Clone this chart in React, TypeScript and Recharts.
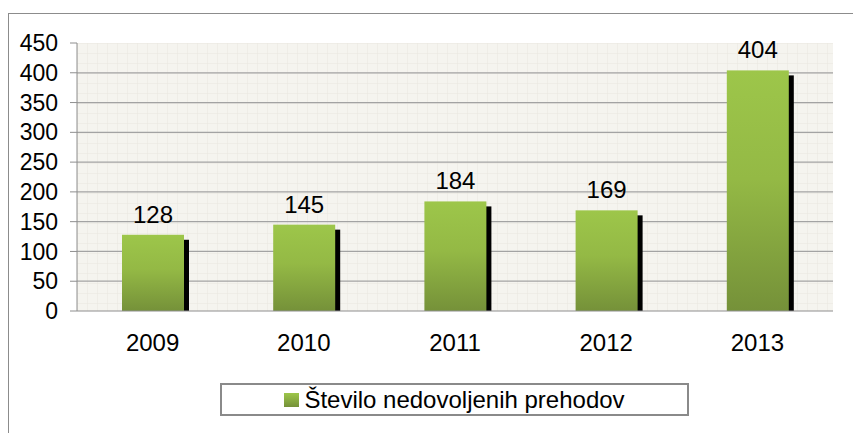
import { Bar, BarChart, CartesianGrid, LabelList, XAxis, YAxis } from "recharts";

const years = ["2009", "2010", "2011", "2012", "2013"];
const crossings = [128, 145, 184, 169, 404];
const yTicks = [0, 50, 100, 150, 200, 250, 300, 350, 400, 450];
const gridValues = [50, 100, 150, 200, 250, 300, 350, 400];
const edgeTicks = [0, 1, 2, 3, 4, 5];
const seriesName = "Število nedovoljenih prehodov";

const data = years.map((year, i) => ({ year, value: crossings[i] }));

const FONT = "'Liberation Sans', Arial, sans-serif";
const AXIS_GREY = "#8e8e8e";

function ShadowBar(props: any) {
  const { x, y, width, height } = props;
  if (!height || height <= 0) return null;
  return (
    <g>
      <rect x={x + 5} y={y + 5} width={width} height={Math.max(height - 5, 0)} fill="#000" />
      <rect x={x} y={y} width={width} height={height} fill="url(#barGreen)" />
    </g>
  );
}

export default function App() {
  return (
    <div
      style={{
        position: "absolute",
        left: 0,
        top: 0,
        width: 853,
        height: 433,
        background: "#fff",
        overflow: "hidden",
        fontFamily: FONT,
      }}
    >
      <div
        style={{
          position: "absolute",
          left: 8,
          top: 13,
          width: 900,
          height: 500,
          border: "1px solid #8c8c8c",
        }}
      />
      <div style={{ position: "absolute", left: 0, top: 0 }}>
        <BarChart
          width={853}
          height={433}
          data={data}
          margin={{ top: 43, right: 20, left: 0, bottom: 92 }}
          barSize={62}
        >
          <defs>
            <linearGradient id="barGreen" x1="0" y1="0" x2="0" y2="1">
              <stop offset="0%" stopColor="#9dc64a" />
              <stop offset="45%" stopColor="#94b945" />
              <stop offset="100%" stopColor="#759139" />
            </linearGradient>
            <pattern id="minorGrid" width={10} height={10} patternUnits="userSpaceOnUse" x={77} y={43}>
              <rect width={10} height={10} fill="#f5f4ef" />
              <path d="M 10 0 L 0 0 0 10" fill="none" stroke="#e9e7e0" strokeWidth={1} />
            </pattern>
          </defs>
          <CartesianGrid
            vertical={false}
            horizontalValues={gridValues}
            fill="url(#minorGrid)"
            stroke="#a3a3a3"
            strokeWidth={1.3}
          />
          <XAxis
            xAxisId="edges"
            type="number"
            domain={[0, 5]}
            ticks={edgeTicks}
            tick={false}
            axisLine={false}
            tickSize={6}
            tickLine={{ stroke: AXIS_GREY }}
            height={0}
          />
          <XAxis
            dataKey="year"
            tickLine={false}
            tickSize={0}
            tickMargin={23}
            height={30}
            axisLine={{ stroke: AXIS_GREY }}
            tick={{ fill: "#000", fontSize: 24, fontFamily: FONT }}
          />
          <YAxis
            width={77}
            domain={[0, 450]}
            ticks={yTicks}
            interval={0}
            tickSize={7}
            tickMargin={12}
            axisLine={{ stroke: AXIS_GREY }}
            tickLine={{ stroke: AXIS_GREY }}
            tick={{ fill: "#000", fontSize: 23, fontFamily: FONT }}
          />
          <Bar dataKey="value" name={seriesName} shape={ShadowBar} isAnimationActive={false}>
            <LabelList
              dataKey="value"
              position="top"
              offset={12}
              style={{ fill: "#000", fontSize: 24, fontFamily: FONT }}
            />
          </Bar>
        </BarChart>
      </div>
      <div
        style={{
          position: "absolute",
          left: 220,
          top: 383,
          width: 469,
          height: 33,
          boxSizing: "border-box",
          border: "2px solid #8a8a8a",
          display: "flex",
          alignItems: "center",
          justifyContent: "center",
          gap: 5,
          fontSize: 24,
          color: "#000",
        }}
      >
        <span
          style={{
            width: 15,
            height: 14,
            background: "linear-gradient(#9dc64a, #759139)",
            display: "inline-block",
          }}
        />
        <span>{seriesName}</span>
      </div>
    </div>
  );
}
